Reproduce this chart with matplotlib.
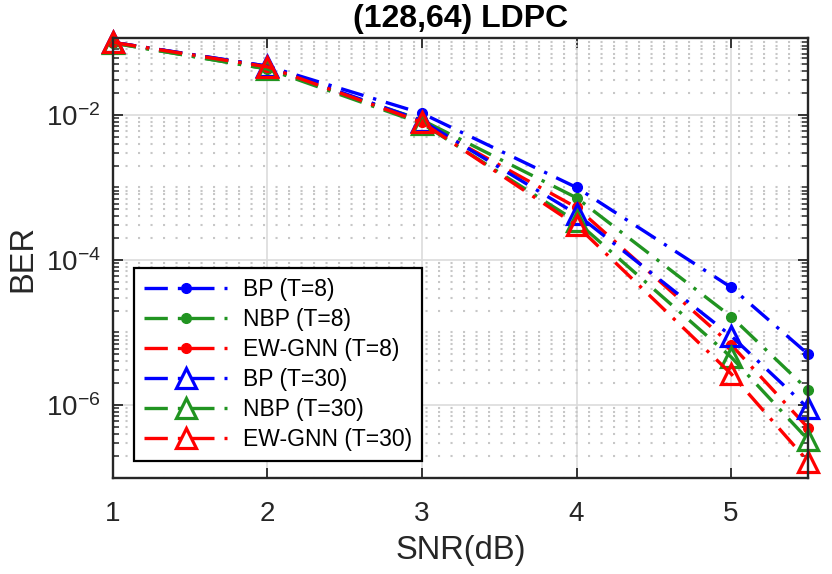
import matplotlib
matplotlib.use('Agg')
import matplotlib.pyplot as plt
from matplotlib.ticker import FixedLocator, LogLocator, NullFormatter

plt.rcParams['font.family'] = ['Liberation Sans', 'DejaVu Sans']
plt.rcParams['mathtext.fontset'] = 'custom'
plt.rcParams['mathtext.rm'] = 'Liberation Sans'
plt.rcParams['mathtext.it'] = 'Liberation Sans:italic'
plt.rcParams['mathtext.bf'] = 'Liberation Sans:bold'

# data
snr = [1, 2, 3, 4, 5, 5.5]
bp_t8 = [0.100, 0.047, 0.0105, 1.0e-3, 4.2e-5, 5.0e-6]
nbp_t8 = [0.098, 0.043, 0.0085, 7.2e-4, 1.66e-5, 1.6e-6]
ewgnn_t8 = [0.100, 0.046, 0.0079, 5.3e-4, 6.8e-6, 4.8e-7]
bp_t30 = [0.100, 0.047, 0.0083, 4.3e-4, 9.0e-6, 9.0e-7]
nbp_t30 = [0.098, 0.043, 0.0076, 3.4e-4, 4.6e-6, 3.3e-7]
ewgnn_t30 = [0.100, 0.046, 0.0079, 3.0e-4, 2.7e-6, 1.65e-7]

labels = ['BP (T=8)', 'NBP (T=8)', 'EW-GNN (T=8)',
          'BP (T=30)', 'NBP (T=30)', 'EW-GNN (T=30)']

blue = (0, 0, 1)
green = (0.13, 0.58, 0.13)
red = (1, 0, 0)
dashdot = (0, (7, 3, 1, 3))

fig = plt.figure(figsize=(8.32, 5.74), dpi=100)
ax = fig.add_axes([0.1358, 0.1667, 0.8357, 0.7671])

for y, c, lab in [(bp_t8, blue, labels[0]), (nbp_t8, green, labels[1]), (ewgnn_t8, red, labels[2])]:
    ax.plot(snr, y, ls=dashdot, lw=2.4, color=c, marker='o', markersize=7,
            label=lab, clip_on=False)
for y, c, lab in [(bp_t30, blue, labels[3]), (nbp_t30, green, labels[4]), (ewgnn_t30, red, labels[5])]:
    ax.plot(snr, y, ls=dashdot, lw=2.4, color=c, marker='^', markersize=14,
            markerfacecolor='none', markeredgewidth=2.3, label=lab, clip_on=False)

ax.set_yscale('log')
ax.set_xlim(1, 5.5)
ax.set_ylim(9.75e-8, 0.115)
ax.set_xticks([1, 2, 3, 4, 5])
ax.yaxis.set_major_locator(FixedLocator([1e-6, 1e-4, 1e-2]))
ax.yaxis.set_minor_locator(LogLocator(base=10, subs=range(1, 10), numticks=20))
ax.yaxis.set_minor_formatter(NullFormatter())

ax.set_axisbelow(True)
ax.grid(which='major', color=(0.86, 0.86, 0.86), lw=1.2, ls='-')
ax.yaxis.grid(which='minor', color=(0.78, 0.78, 0.78), lw=1.5, ls=(0, (1, 5)))

dark = (0.15, 0.15, 0.15)
for s in ax.spines.values():
    s.set_color(dark)
    s.set_linewidth(1.7)
ax.tick_params(which='both', direction='in', top=True, right=True, color=dark, labelcolor=dark)
ax.tick_params(which='major', length=7, width=1.3, labelsize=20)
ax.tick_params(which='minor', length=4, width=1.1)
ax.tick_params(axis='x', pad=16)
ax.tick_params(axis='y', pad=9)

ax.set_title('(128,64) LDPC', fontsize=23, fontweight='bold', pad=8)
ax.set_xlabel('SNR(dB)', fontsize=23.5, color=dark)
ax.set_ylabel('BER', fontsize=23.5, color=dark)
ax.xaxis.set_label_coords(0.5, -0.128)
ax.yaxis.set_label_coords(-0.108, 0.5)

leg = ax.legend(loc='lower left', bbox_to_anchor=(0.0302, 0.0393), borderaxespad=0,
                fontsize=16.5, handlelength=3.6, handletextpad=0.7, labelspacing=0.3,
                borderpad=0.45, fancybox=False, framealpha=1, edgecolor='black')
leg.get_frame().set_linewidth(1.6)

fig.savefig('out.png', dpi=100)
